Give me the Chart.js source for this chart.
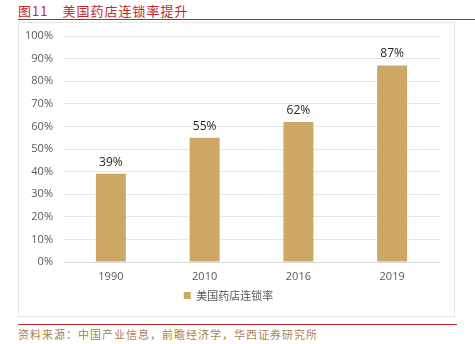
<!DOCTYPE html>
<html>
<head>
<meta charset="utf-8">
<script src="https://cdn.jsdelivr.net/npm/chart.js@4"></script>
<style>
  html, body { margin: 0; padding: 0; background: #fff; }
  body { width: 475px; height: 344px; position: relative; overflow: hidden;
         font-family: "Noto Sans CJK SC", "Noto Sans", sans-serif; }
  #title { position: absolute; left: 18px; top: 1px; font-size: 13px; color: #C0272D;
           letter-spacing: 1px; white-space: nowrap; }
  #title .num { margin-right: 14px; }
  #topRule { position: absolute; left: 18px; right: 0; top: 19px; height: 0;
             border-top: 1.5px solid #C0272D; }
  #frame { position: absolute; left: 18px; top: 22px; width: 435px; height: 293px;
           border: 1.5px solid #e6e6e6; }
  #wrap { position: absolute; left: 18px; top: 22px; width: 437px; height: 295px; }
  #bottomRule { position: absolute; left: 18px; width: 439px; top: 324px; height: 0;
                border-top: 1.5px solid #C0272D; }
  #source { position: absolute; left: 18px; top: 326px; font-size: 11px; color: #A88450;
            letter-spacing: 1px; white-space: nowrap; }
</style>
</head>
<body>
<div id="title"><span class="num">图11</span>美国药店连锁率提升</div>
<div id="topRule"></div>
<div id="frame"></div>
<div id="wrap"><canvas id="c" width="437" height="295"></canvas></div>
<div id="bottomRule"></div>
<div id="source">资料来源：中国产业信息，前瞻经济学，华西证券研究所</div>
<script>
const years = ['1990', '2010', '2016', '2019'];
const chainRate = [39, 55, 62, 87];
const seriesName = '美国药店连锁率';

// Writes the percentage above each bar
const valueLabels = {
  id: 'valueLabels',
  afterDatasetsDraw(chart) {
    const ctx = chart.ctx;
    const meta = chart.getDatasetMeta(0);
    ctx.save();
    ctx.font = '12px "Open Sans", "DejaVu Sans", sans-serif';
    ctx.fillStyle = '#262626';
    ctx.textAlign = 'center';
    ctx.textBaseline = 'alphabetic';
    meta.data.forEach((bar, i) => {
      ctx.fillText(chainRate[i] + '%', bar.x, bar.y - 8);
    });
    ctx.restore();
  }
};

new Chart(document.getElementById('c'), {
  type: 'bar',
  data: {
    labels: years,
    datasets: [{
      label: seriesName,
      data: chainRate,
      backgroundColor: '#CDA765',
      borderWidth: 0,
      categoryPercentage: 1,
      barPercentage: 0.32
    }]
  },
  options: {
    responsive: false,
    animation: false,
    devicePixelRatio: 1,
    layout: { padding: { top: 14, right: 16, left: 0, bottom: 6 } },
    plugins: {
      tooltip: { enabled: false },
      legend: {
        position: 'bottom',
        labels: {
          boxWidth: 7, boxHeight: 7, padding: 8,
          color: '#595959',
          font: { size: 11, family: '"Noto Sans CJK SC", sans-serif' }
        }
      }
    },
    scales: {
      x: {
        afterFit(scale) { scale.height = 20; },
        grid: { display: false, drawTicks: false },
        border: { display: true, color: '#d9d9d9', width: 1 },
        ticks: { color: '#595959', padding: 8,
                 font: { size: 11, family: '"Open Sans", "DejaVu Sans", sans-serif' } }
      },
      y: {
        min: 0, max: 100,
        afterFit(scale) { scale.width = 46; },
        grid: { color: '#e6e6e6', lineWidth: 1, drawTicks: false },
        border: { display: false },
        ticks: {
          stepSize: 10, padding: 11, color: '#595959',
          font: { size: 11, lineHeight: 0.5, family: '"Open Sans", "DejaVu Sans", sans-serif' },
          callback: v => v + '%'
        }
      }
    }
  },
  plugins: [valueLabels]
});
</script>
</body>
</html>
